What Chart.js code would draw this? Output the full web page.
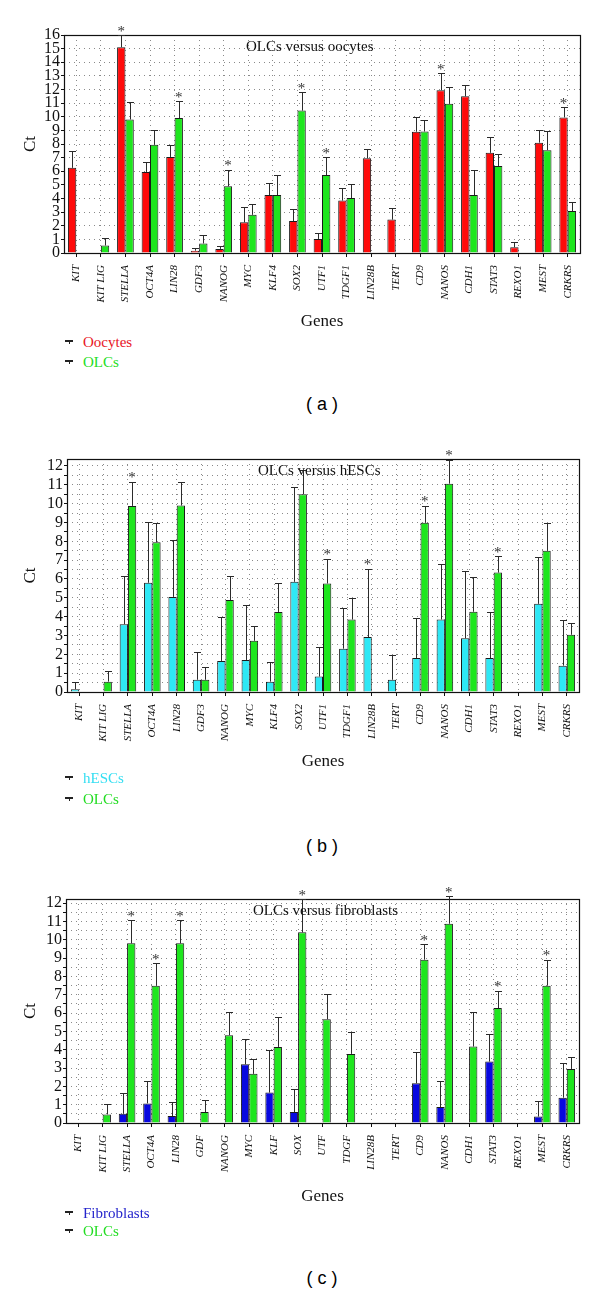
<!DOCTYPE html>
<html><head><meta charset="utf-8">
<script src="https://cdn.jsdelivr.net/npm/chart.js@4.4.0/dist/chart.umd.min.js"></script>
<style>
html,body{margin:0;padding:0;background:#fff;}
body{width:600px;height:1291px;position:relative;overflow:hidden;}
canvas{position:absolute;left:0;}
.leg{position:absolute;left:83px;font:15px 'Liberation Serif',serif;line-height:18px;height:18px;white-space:nowrap;}
.sym{position:absolute;left:65px;width:8px;height:6px;}
.sym:before{content:"";position:absolute;left:0;top:0;width:8px;height:1.5px;background:#222;}
.sym:after{content:"";position:absolute;left:3.5px;top:0;width:1px;height:4px;background:#222;}
.cap{position:absolute;left:272px;width:100px;text-align:center;font:18px 'Liberation Sans',Arial,sans-serif;line-height:22px;}
</style></head><body>
<canvas id="ca" width="600" height="332" style="top:0px"></canvas>
<canvas id="cb" width="600" height="352" style="top:420px"></canvas>
<canvas id="cc" width="600" height="347" style="top:860px"></canvas>
<script>
// ---------------- data ----------------
const genesA = ['KIT','KIT LIG','STELLA','OCT4A','LIN28','GDF3','NANOG','MYC','KLF4','SOX2','UTF1','TDGF1','LIN28B','TERT','CD9','NANOS','CDH1','STAT3','REXO1','MEST','CRKRS'];
const genesB = ['KIT','KIT LIG','STELLA','OCT4A','LIN28','GDF3','NANOG','MYC','KLF4','SOX2','UTF1','TDGF1','LIN28B','TERT','CD9','NANOS','CDH1','STAT3','REXO1','MEST','CRKRS'];
const genesC = ['KIT','KIT LIG','STELLA','OCT4A','LIN28','GDF','NANOG','MYC','KLF','SOX','UTF','TDGF','LIN28B','TERT','CD9','NANOS','CDH1','STAT3','REXO1','MEST','CRKRS'];

const seriesA = ['Oocytes','OLCs'];
const seriesB = ['hESCs','OLCs'];
const seriesC = ['Fibroblasts','OLCs'];

// Panel (a) OLCs versus oocytes
const oocytes    = [6.25, null, 15.1, 5.95, 7.05, 0.17, 0.3, 2.25, 4.25, 2.35, 1.03, 3.85, 6.95, 2.45, 8.9, 11.95, 11.5, 7.35, 0.42, 8.1, 9.95];
const oocytesErr = [1.2, null, 0.9, 0.75, 0.9, 0.18, 0.25, 1.1, 0.9, 0.85, 0.47, 0.95, 0.7, 0.85, 1.1, 1.25, 0.8, 1.2, 0.36, 0.9, 0.75];
const olcsA      = [null, 0.55, 9.8, 7.95, 9.9, 0.7, 4.9, 2.8, 4.25, 10.45, 5.72, 4.03, null, null, 8.92, 10.95, 4.25, 6.38, null, 7.55, 3.08];
const olcsAErr   = [null, 0.55, 1.3, 1.05, 1.25, 0.62, 1.2, 0.77, 1.5, 1.35, 1.32, 1.0, null, null, 0.86, 1.27, 1.86, 0.86, null, 1.37, 0.64];
const sigA       = [null, null, 0, null, 1, null, 1, null, null, 1, 1, null, null, null, null, 0, null, null, null, null, 0];

// Panel (b) OLCs versus hESCs
const hescs      = [0.15, null, 3.6, 5.8, 5.05, 0.65, 1.65, 1.7, 0.55, 5.85, 0.82, 2.3, 2.92, 0.65, 1.8, 3.85, 2.85, 1.8, null, 4.68, 1.4];
const hescsErr   = [0.4, null, 2.55, 3.2, 3.0, 1.45, 2.33, 2.9, 1.02, 5.05, 1.55, 2.17, 3.63, 1.3, 2.12, 2.95, 3.6, 2.45, null, 2.5, 2.4];
const olcsB      = [null, 0.55, 9.88, 7.95, 9.9, 0.65, 4.88, 2.72, 4.25, 10.5, 5.76, 3.85, null, null, 8.98, 11.06, 4.26, 6.34, null, 7.5, 3.04];
const olcsBErr   = [null, 0.58, 1.27, 1.03, 1.25, 0.66, 1.26, 0.81, 1.55, 1.27, 1.31, 1.15, null, null, 0.9, 1.26, 1.85, 0.87, null, 1.47, 0.63];
const sigB       = [null, null, 1, null, null, null, null, null, null, null, 1, null, 0, null, 1, 1, null, 1, null, null, null];

// Panel (c) OLCs versus fibroblasts
const fibro      = [null, null, 0.5, 1.07, 0.38, null, null, 3.2, 1.66, 0.6, null, null, null, null, 2.17, 0.87, null, 3.35, null, 0.35, 1.38];
const fibroErr   = [null, null, 1.15, 1.2, 0.77, null, null, 1.4, 2.3, 1.28, null, null, null, null, 1.7, 1.43, null, 1.48, null, 0.87, 1.88];
const olcsC      = [null, 0.47, 9.8, 7.49, 9.8, 0.6, 4.79, 2.68, 4.15, 10.4, 5.66, 3.77, null, null, 8.91, 10.87, 4.17, 6.27, null, 7.49, 2.95];
const olcsCErr   = [null, 0.55, 1.27, 1.23, 1.27, 0.66, 1.29, 0.82, 1.61, 1.8, 1.37, 1.2, null, null, 0.85, 1.51, 1.91, 0.94, null, 1.41, 0.67];
const sigC       = [null, null, 1, 1, 1, null, null, null, null, 1, null, null, null, null, 1, 1, null, 1, null, 1, null];

// ---------------- drawing ----------------
const SERIF = "'Liberation Serif', 'Times New Roman', serif";

const framePlugin = {
  id: 'frame',
  afterDatasetsDraw(chart) {
    const a = chart.chartArea, ctx = chart.ctx;
    ctx.save();
    ctx.strokeStyle = '#111'; ctx.lineWidth = 1.2;
    ctx.strokeRect(Math.round(a.left) + 0.5, Math.round(a.top) + 0.5, Math.round(a.right - a.left), Math.round(a.bottom - a.top));
    ctx.restore();
  }
};

const errorPlugin = {
  id: 'errbars',
  afterDatasetsDraw(chart, args, opts) {
    const ctx = chart.ctx, ys = chart.scales.y;
    ctx.save();
    ctx.strokeStyle = '#2b2b2b'; ctx.lineWidth = 1;
    chart.data.datasets.forEach((ds, di) => {
      const meta = chart.getDatasetMeta(di);
      meta.data.forEach((bar, i) => {
        const v = ds.data[i], e = ds.errors[i];
        if (v == null || e == null) return;
        const x = Math.round(bar.x) + 0.5;
        const y0 = ys.getPixelForValue(v), y1 = Math.round(ys.getPixelForValue(v + e)) + 0.5;
        ctx.beginPath();
        ctx.moveTo(x, y0); ctx.lineTo(x, y1);
        ctx.moveTo(x - 3.5, y1); ctx.lineTo(x + 3.5, y1);
        ctx.stroke();
      });
    });
    // significance asterisks
    ctx.fillStyle = '#333';
    ctx.font = '15px ' + SERIF;
    ctx.textAlign = 'center'; ctx.textBaseline = 'alphabetic';
    (opts.sig || []).forEach((s, i) => {
      if (s == null) return;
      const ds = chart.data.datasets[s];
      const bar = chart.getDatasetMeta(s).data[i];
      const top = ys.getPixelForValue(ds.data[i] + (ds.errors[i] || 0));
      ctx.fillText('*', bar.x, top + 0.5);
    });
    // title inside the plot
    const a = chart.chartArea;
    ctx.fillStyle = '#111';
    ctx.font = '15px ' + SERIF;
    ctx.textAlign = 'left'; ctx.textBaseline = 'middle';
    ctx.fillText(opts.title, a.left + opts.titleDx, a.top + 12);
    ctx.restore();
  }
};

function makePanel(p) {
  new Chart(document.getElementById(p.id), {
    type: 'bar',
    data: {
      labels: p.genes,
      datasets: p.series.map((s) => ({
        label: s.name, data: s.data, errors: s.err,
        backgroundColor: s.color, borderColor: '#1a1a1a', borderWidth: 1,
        categoryPercentage: 0.68, barPercentage: 1.0
      }))
    },
    options: {
      responsive: false, animation: false, devicePixelRatio: 1,
      layout: { padding: { top: p.padTop, right: p.padRight, left: 0, bottom: 0 } },
      plugins: {
        legend: { display: false }, tooltip: { enabled: false },
        errbars: { sig: p.sig, title: p.title, titleDx: p.titleDx }
      },
      scales: {
        x: {
          offset: true,
          grid: { offset: false, color: '#8a8a8a', lineWidth: 1, drawTicks: true, tickLength: 4, tickColor: '#111', tickBorderDash: [] },
          border: { display: false, dash: [1, 4] },
          ticks: { minRotation: 90, maxRotation: 90, autoSkip: false, padding: 8, color: '#111',
                   font: { family: SERIF, size: 11, style: 'italic' } },
          title: { display: true, text: 'Genes', color: '#111', font: { family: SERIF, size: 17 }, padding: { top: 0, bottom: 0 } },
          afterFit: (s) => { s.height = p.xHeight; }
        },
        y: {
          min: 0, max: p.max,
          grid: { color: '#8a8a8a', lineWidth: 1, drawTicks: true, tickLength: 3, tickColor: '#111', tickBorderDash: [] },
          border: { display: false, dash: [1, 4] },
          ticks: { stepSize: p.step, autoSkip: false, maxTicksLimit: 100, includeBounds: false, padding: 1, color: '#111',
                   font: { family: SERIF, size: 16 },
                   callback: (v) => Number.isInteger(v) ? String(v) : '' },
          title: { display: true, text: 'Ct', color: '#111', font: { family: SERIF, size: 17 }, padding: { top: 20, bottom: 0 } },
          afterFit: (s) => { s.width = p.yWidth; }
        }
      }
    },
    plugins: [framePlugin, errorPlugin]
  });
  // legend (HTML) and caption
  p.series.forEach((s, k) => {
    const y = p.legendY[k];
    const sym = document.createElement('div');
    sym.className = 'sym'; sym.style.top = (y - 2) + 'px';
    document.body.appendChild(sym);
    const t = document.createElement('div');
    t.className = 'leg'; t.style.top = (y - 9) + 'px'; t.style.color = s.textColor;
    t.textContent = s.name;
    document.body.appendChild(t);
  });
  const c = document.createElement('div');
  c.className = 'cap'; c.style.top = (p.capY - 11) + 'px'; c.textContent = p.caption;
  document.body.appendChild(c);
}

const RED = '#ff0a0a', GREEN = '#1ee61e', CYAN = '#2ee8f5', BLUE = '#0808e0';

makePanel({ id: 'ca', genes: genesA, max: 16, step: 1, padTop: 35, padRight: 20, yWidth: 64, xHeight: 79,
  title: 'OLCs versus oocytes', titleDx: 182, sig: sigA,
  series: [
    { name: seriesA[0], data: oocytes, err: oocytesErr, color: RED, textColor: '#e8141e' },
    { name: seriesA[1], data: olcsA, err: olcsAErr, color: GREEN, textColor: '#22dd22' }
  ],
  legendY: [342, 362], caption: '( a )', capY: 404 });

makePanel({ id: 'cb', genes: genesB, max: 12.37, step: 0.5, padTop: 39, padRight: 21, yWidth: 67, xHeight: 80,
  title: 'OLCs versus hESCs', titleDx: 191, sig: sigB,
  series: [
    { name: seriesB[0], data: hescs, err: hescsErr, color: CYAN, textColor: '#33def2' },
    { name: seriesB[1], data: olcsB, err: olcsBErr, color: GREEN, textColor: '#22dd22' }
  ],
  legendY: [778, 799], caption: '( b )', capY: 846 });

makePanel({ id: 'cc', genes: genesC, max: 12.22, step: 0.5, padTop: 39, padRight: 21, yWidth: 66, xHeight: 84,
  title: 'OLCs versus fibroblasts', titleDx: 187, sig: sigC,
  series: [
    { name: seriesC[0], data: fibro, err: fibroErr, color: BLUE, textColor: '#2424cc' },
    { name: seriesC[1], data: olcsC, err: olcsCErr, color: GREEN, textColor: '#22dd22' }
  ],
  legendY: [1213, 1231], caption: '( c )', capY: 1278 });
</script>
</body></html>
